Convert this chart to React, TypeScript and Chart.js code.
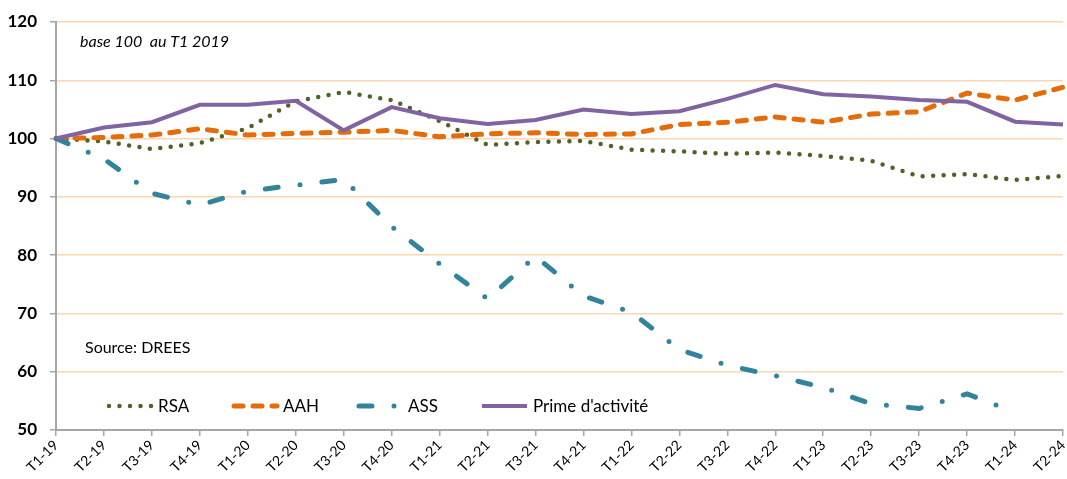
import React, { useEffect, useRef } from "react";
import { Chart, registerables } from "chart.js";

Chart.register(...registerables);

const categories = [
  "T1-19", "T2-19", "T3-19", "T4-19", "T1-20", "T2-20", "T3-20", "T4-20",
  "T1-21", "T2-21", "T3-21", "T4-21", "T1-22", "T2-22", "T3-22", "T4-22",
  "T1-23", "T2-23", "T3-23", "T4-23", "T1-24", "T2-24",
];

const rsa = [100, 99.5, 98.2, 99.2, 101.8, 106.4, 108.0, 106.6, 103.0, 98.9, 99.4, 99.6,
  98.1, 97.8, 97.4, 97.6, 97.0, 96.2, 93.5, 93.9, 92.9, 93.6];
const aah = [100, 100.2, 100.6, 101.7, 100.6, 100.9, 101.1, 101.4, 100.3, 100.8, 101.0, 100.7,
  100.8, 102.4, 102.8, 103.7, 102.8, 104.2, 104.6, 107.8, 106.6, 108.8];
const ass = [100, 96.5, 90.6, 88.6, 91.0, 92.0, 93.0, 84.9, 78.5, 72.5, 79.8, 73.0,
  70.2, 63.8, 61.1, 59.3, 57.3, 54.5, 53.7, 56.2, 53.0, null];
const prime = [100, 101.9, 102.8, 105.8, 105.8, 106.5, 101.4, 105.4, 103.5, 102.5, 103.2, 105.0,
  104.2, 104.7, 106.8, 109.2, 107.6, 107.2, 106.6, 106.3, 102.9, 102.4];

const yTicks = [50, 60, 70, 80, 90, 100, 110, 120];

const seriesLabels = ["RSA", "AAH", "ASS", "Prime d'activité"];
const noteText = "base 100  au T1 2019";
const sourceText = "Source: DREES";

const FONT = "Lato, 'Open Sans', sans-serif";
const GRAY = "#A6A6A6";

const overlayPlugin = {
  id: "overlay",
  afterDraw(chart: any) {
    const ctx = chart.ctx;
    ctx.save();
    ctx.fillStyle = "#000";
    ctx.textBaseline = "alphabetic";
    ctx.font = `italic 16px ${FONT}`;
    ctx.fillText(noteText, 80, 47);
    ctx.font = `16px ${FONT}`;
    ctx.fillText(sourceText, 85, 353);

    // legend
    const ly = 406;
    chart.data.datasets.forEach((ds: any, i: number) => {
      const x0 = 107 + i * 125;
      ctx.save();
      ctx.strokeStyle = ds.borderColor;
      ctx.lineWidth = ds.borderWidth;
      ctx.lineCap = ds.borderCapStyle || "butt";
      ctx.setLineDash(ds.borderDash || []);
      ctx.beginPath();
      ctx.moveTo(x0 + (ds.borderCapStyle === "round" ? 2 : 0), ly);
      ctx.lineTo(x0 + 45, ly);
      ctx.stroke();
      ctx.restore();
      ctx.fillStyle = "#000";
      ctx.font = `17px ${FONT}`;
      ctx.fillText(ds.label, x0 + 51, ly + 6);
    });
    ctx.restore();
  },
};

export default function App() {
  const ref = useRef<HTMLCanvasElement>(null);
  useEffect(() => {
    if (!ref.current) return;
    const chart = new Chart(ref.current, {
      type: "line",
      data: {
        labels: categories,
        datasets: [
          {
            label: seriesLabels[0],
            data: rsa,
            borderColor: "#4F6228",
            backgroundColor: "#4F6228",
            borderWidth: 4.5,
            borderDash: [0, 10.5],
            borderCapStyle: "round",
            pointRadius: 0,
            tension: 0,
            order: 4,
          },
          {
            label: seriesLabels[1],
            data: aah,
            borderColor: "#E46C0A",
            backgroundColor: "#E46C0A",
            borderWidth: 5,
            borderDash: [9, 10],
            borderCapStyle: "round",
            pointRadius: 0,
            tension: 0,
            order: 3,
          },
          {
            label: seriesLabels[2],
            data: ass,
            borderColor: "#31849B",
            backgroundColor: "#31849B",
            borderWidth: 5,
            borderDash: [13, 22, 0, 22],
            borderCapStyle: "round",
            pointRadius: 0,
            tension: 0,
            spanGaps: false,
            order: 2,
          },
          {
            label: seriesLabels[3],
            data: prime,
            borderColor: "#8064A2",
            backgroundColor: "#8064A2",
            borderWidth: 4,
            pointRadius: 0,
            tension: 0,
            order: 1,
          },
        ],
      },
      options: {
        responsive: true,
        maintainAspectRatio: false,
        animation: false,
        layout: { padding: { top: 22, right: 4, left: 0, bottom: 0 } },
        plugins: {
          legend: { display: false },
          tooltip: { enabled: false },
          title: { display: false },
        },
        scales: {
          x: {
            offset: false,
            grid: {
              drawOnChartArea: false,
              drawTicks: true,
              tickLength: 6,
              tickColor: GRAY,
              lineWidth: 1.5,
            },
            border: { color: GRAY, width: 2 },
            ticks: {
              autoSkip: false,
              minRotation: 45,
              maxRotation: 45,
              color: "#000",
              padding: 1,
              font: { family: FONT, size: 14 },
            },
            afterFit(scale: any) {
              scale.height = 49;
              scale.paddingLeft = 0;
              scale.paddingRight = 0;
            },
          },
          y: {
            min: 50,
            max: 120,
            afterBuildTicks(scale: any) {
              scale.ticks = yTicks.map((v) => ({ value: v }));
            },
            grid: {
              color: (c: any) => (c.tick && c.tick.value === 50 ? GRAY : "#FCD5B4"),
              tickColor: GRAY,
              tickLength: 6,
              lineWidth: 1.5,
            },
            border: { color: GRAY, width: 2 },
            ticks: {
              color: "#000",
              padding: 13,
              font: { family: FONT, size: 17, weight: "bold" },
            },
            afterFit(scale: any) {
              scale.width = 56;
              scale.paddingTop = 0;
              scale.paddingBottom = 0;
            },
          },
        },
      },
      plugins: [overlayPlugin],
    });
    return () => chart.destroy();
  }, []);
  return (
    <div style={{ position: "absolute", left: 0, top: 0, width: 1067, height: 479 }}>
      <canvas ref={ref} />
    </div>
  );
}
